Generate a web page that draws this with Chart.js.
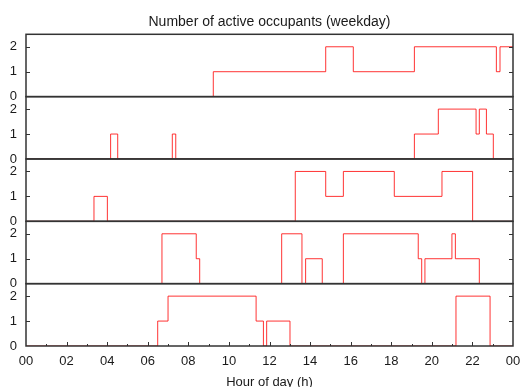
<!DOCTYPE html>
<html>
<head>
<meta charset="utf-8">
<script src="https://cdn.jsdelivr.net/npm/chart.js@4"></script>
<style>
  html, body { margin: 0; padding: 0; background: #fff; }
  #wrap { width: 522px; height: 387px; }
</style>
</head>
<body>
<div id="wrap"><canvas id="chart"></canvas></div>
<script>
// hour labels for the x axis (every two hours, midnight to midnight)
const hourLabels = ['00', '02', '04', '06', '08', '10', '12', '14', '16', '18', '20', '22', '00'];

// each day: the hour a change happens and the occupant count from then on
const day1Hours = [0, 9.23, 14.77, 16.13, 19.14, 23.18, 23.36, 24];
const day1Count = [0, 1, 2, 1, 2, 1, 2, 2];

const day2Hours = [0, 4.17, 4.52, 7.21, 7.38, 19.14, 20.32, 22.18, 22.34, 22.69, 23.03, 24];
const day2Count = [0, 1, 0, 1, 0, 1, 2, 1, 2, 1, 0, 0];

const day3Hours = [0, 3.35, 4.01, 13.27, 14.77, 15.64, 18.15, 20.50, 22.01, 24];
const day3Count = [0, 1, 0, 2, 1, 2, 1, 2, 0, 0];

const day4Hours = [0, 6.70, 8.39, 8.56, 12.60, 13.60, 13.78, 14.60, 15.64, 19.33, 19.50, 19.66, 20.99, 21.16, 22.34, 24];
const day4Count = [0, 2, 1, 0, 2, 0, 1, 0, 2, 1, 0, 1, 2, 1, 0, 0];

const day5Hours = [0, 6.49, 7.00, 11.34, 11.70, 11.86, 13.01, 21.19, 22.87, 24];
const day5Count = [0, 1, 2, 1, 0, 1, 0, 2, 0, 0];

const days = [
    [day1Hours, day1Count],
    [day2Hours, day2Count],
    [day3Hours, day3Count],
    [day4Hours, day4Count],
    [day5Hours, day5Count]
];
const panelIds = days.map((d, i) => 'y' + (i + 1));

const textColor = '#1a1a1a';
const font = { family: '"Liberation Sans", Arial, sans-serif', size: 13 };

const datasets = days.map(([hours, count], i) => ({
    data: hours.map((h, k) => ({ x: h, y: count[k] })),
    yAxisID: panelIds[i],
    stepped: true,
    borderColor: 'rgba(255, 0, 0, 0.8)',
    borderWidth: 1,
    pointRadius: 0,
    fill: false
}));

const scales = {
    x: {
        type: 'linear',
        min: 0,
        max: 24,
        grid: { display: false, drawTicks: false },
        border: { display: false },
        ticks: {
            stepSize: 2,
            padding: 8,
            maxRotation: 0,
            autoSkip: false,
            color: textColor,
            font: font,
            callback: (v) => hourLabels[v / 2]
        },
        title: {
            display: true,
            text: 'Hour of day (h)',
            color: textColor,
            font: font,
            padding: { top: 0, bottom: -3 }
        },
        afterFit: (s) => {
            s.height = 41;
            s.paddingLeft = 0;
            s.paddingRight = 0;
        }
    }
};

// stacked left axes are laid out last-defined on top, so add them bottom-up
panelIds.slice().reverse().forEach((id) => {
    scales[id] = {
        type: 'linear',
        position: 'left',
        stack: 'days',
        stackWeight: 1,
        min: 0,
        max: 2.5,
        grid: { display: false, drawTicks: false },
        border: { display: false },
        ticks: {
            stepSize: 1,
            includeBounds: false,
            padding: 9,
            color: textColor,
            font: font
        },
        afterFit: (s) => { s.width = 26; }
    };
});

// box round every panel, plus inward tick marks like a gnuplot frame
const panelFrame = {
    id: 'panelFrame',
    afterDatasetsDraw(chart) {
        const { ctx, chartArea: { left, right } } = chart;
        const xs = chart.scales.x;
        const line = (x1, y1, x2, y2) => {
            ctx.beginPath();
            ctx.moveTo(x1, y1);
            ctx.lineTo(x2, y2);
            ctx.stroke();
        };
        ctx.save();
        ctx.strokeStyle = '#333';
        ctx.lineWidth = 1.5;
        panelIds.forEach((id) => {
            const s = chart.scales[id];
            ctx.strokeRect(left, s.top, right - left, s.bottom - s.top);
        });
        ctx.lineWidth = 1;
        panelIds.forEach((id) => {
            const s = chart.scales[id];
            s.ticks.forEach((t) => {
                if (t.value === 0) return;
                const y = Math.round(s.getPixelForValue(t.value)) + 0.5;
                line(left, y, left + 4, y);
                line(right - 4, y, right, y);
            });
        });
        const bottom = chart.scales[panelIds[panelIds.length - 1]].bottom;
        for (let h = 1; h < 24; h++) {
            const px = Math.round(xs.getPixelForValue(h)) + 0.5;
            const len = h % 2 ? 2 : 4;
            line(px, bottom, px, bottom - len);
        }
        ctx.restore();
    }
};

new Chart(document.getElementById('chart'), {
    type: 'line',
    data: { datasets: datasets },
    options: {
        responsive: true,
        maintainAspectRatio: false,
        animation: false,
        layout: { padding: { left: 0, right: 9, top: 0, bottom: 0 } },
        plugins: {
            legend: { display: false },
            tooltip: { enabled: false },
            title: {
                display: true,
                text: 'Number of active occupants (weekday)',
                fullSize: false,
                color: textColor,
                font: { family: font.family, size: 14, weight: 'normal' },
                padding: { top: 13.5, bottom: 4 }
            }
        },
        scales: scales
    },
    plugins: [panelFrame]
});
</script>
</body>
</html>
